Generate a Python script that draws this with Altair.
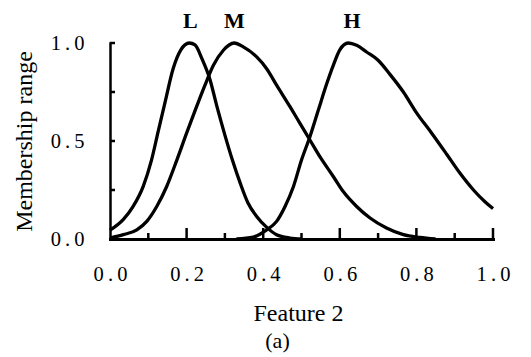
import altair as alt
import pandas as pd

# ---- data ----
L_x = [0.0, 0.035, 0.06, 0.087, 0.108, 0.126, 0.144, 0.165, 0.185, 0.207, 0.222, 0.24, 0.26, 0.28, 0.30, 0.32, 0.34, 0.36, 0.383, 0.41, 0.435, 0.47, 0.50]
L_y = [0.045, 0.10, 0.165, 0.27, 0.40, 0.55, 0.70, 0.87, 0.965, 1.0, 0.99, 0.92, 0.82, 0.67, 0.53, 0.40, 0.285, 0.185, 0.115, 0.058, 0.022, 0.005, 0.0]

M_x = [0.0, 0.035, 0.07, 0.096, 0.122, 0.148, 0.174, 0.20, 0.226, 0.248, 0.27, 0.296, 0.324, 0.348, 0.383, 0.409, 0.435, 0.47, 0.496, 0.522, 0.548, 0.583, 0.609, 0.644, 0.679, 0.722, 0.766, 0.809, 0.85]
M_y = [0.005, 0.022, 0.047, 0.09, 0.166, 0.268, 0.40, 0.54, 0.675, 0.785, 0.886, 0.963, 1.0, 0.98, 0.929, 0.869, 0.785, 0.675, 0.59, 0.505, 0.42, 0.319, 0.242, 0.166, 0.107, 0.056, 0.022, 0.008, 0.0]

H_x = [0.33, 0.374, 0.409, 0.435, 0.457, 0.479, 0.50, 0.522, 0.544, 0.566, 0.583, 0.60, 0.622, 0.644, 0.67, 0.70, 0.731, 0.766, 0.80, 0.84, 0.88, 0.914, 0.949, 0.979, 1.0]
H_y = [0.0, 0.01, 0.047, 0.09, 0.166, 0.268, 0.403, 0.522, 0.658, 0.793, 0.886, 0.965, 1.0, 0.988, 0.954, 0.912, 0.84, 0.75, 0.645, 0.54, 0.43, 0.335, 0.25, 0.19, 0.155]

set_names = ["L", "M", "H"]
set_label_x = [0.21, 0.325, 0.632]
set_label_y = [1.078, 1.078, 1.078]

x_label_values = [0.0, 0.2, 0.4, 0.6, 0.8, 1.0]
y_label_values = [0.0, 0.5, 1.0]
x_major_ticks = [0.2, 0.4, 0.6, 0.8, 1.0]
x_minor_ticks = [0.1, 0.3, 0.5, 0.7, 0.9]
y_ticks = [0.25, 0.5, 0.75, 1.0]

# ---- tables ----
curves = pd.concat([
    pd.DataFrame({"x": L_x, "y": L_y, "curve": "L"}),
    pd.DataFrame({"x": M_x, "y": M_y, "curve": "M"}),
    pd.DataFrame({"x": H_x, "y": H_y, "curve": "H"}),
], ignore_index=True)
labels = pd.DataFrame({"name": set_names, "x": set_label_x, "y": set_label_y})
xmaj = pd.DataFrame({"x": x_major_ticks})
xmin = pd.DataFrame({"x": x_minor_ticks})
yt = pd.DataFrame({"y": y_ticks})

FONT = "Liberation Serif"
TS = "\u2009"
label_expr = f"replace(datum.label, '.', '{TS}.{TS}')"

x_scale = alt.Scale(domain=[0, 1], nice=False, zero=False)
y_scale = alt.Scale(domain=[0, 1], nice=False, zero=False)

x_axis = alt.Axis(
    values=x_label_values, format=".1f", labelExpr=label_expr,
    labelFont=FONT, labelFontSize=20.5, labelColor="black", labelPadding=25,
    ticks=False, tickSize=0, grid=False,
    domainColor="black", domainWidth=3, domainCap="square",
    titleFont=FONT, titleFontSize=24, titleFontWeight="normal",
    titleColor="black", titleX=188, titleY=81, titleBaseline="alphabetic", titleAlign="center",
    labelFlush=False, labelOverlap=False,
)
y_axis = alt.Axis(
    values=y_label_values, format=".1f", labelExpr=label_expr,
    labelFont=FONT, labelFontSize=20.5, labelColor="black", labelPadding=26,
    ticks=False, tickSize=0, grid=False,
    domainColor="black", domainWidth=2.5, domainCap="square",
    titleFont=FONT, titleFontSize=24, titleFontWeight="normal",
    titleColor="black", titleAngle=270, titleX=-86, titleY=98,
    titleBaseline="middle", titleAlign="center",
    labelFlush=False, labelOverlap=False,
)

X = alt.X("x:Q", scale=x_scale, axis=x_axis, title="Feature 2")
Y = alt.Y("y:Q", scale=y_scale, axis=y_axis, title="Membership range")

lines = alt.Chart(curves).mark_line(
    color="black", strokeWidth=3.3, interpolate="monotone", clip=False
).encode(x=X, y=Y, detail="curve:N")

major = alt.Chart(xmaj).mark_rule(color="black", strokeWidth=2.5).encode(
    x=X, y=alt.value(196), y2=alt.value(185),
)
minor = alt.Chart(xmin).mark_rule(color="black", strokeWidth=2.5).encode(
    x=X, y=alt.value(196), y2=alt.value(190),
)
yticks = alt.Chart(yt).mark_rule(color="black", strokeWidth=2.5).encode(
    y=Y, x=alt.value(0), x2=alt.value(5),
)

text = alt.Chart(labels).mark_text(
    font=FONT, fontSize=22, fontWeight="bold", color="black",
    align="center", baseline="alphabetic", clip=False
).encode(x=X, y=Y, text="name:N")

chart = alt.layer(lines, major, minor, yticks, text).properties(
    width=383, height=196,
    padding={"left": 102, "top": 35, "right": 30, "bottom": 118},
    autosize=alt.AutoSizeParams(type="none"),
    title=alt.TitleParams(
        "(a)", orient="bottom", anchor="middle", dx=-24, offset=6,
        font=FONT, fontSize=22, fontWeight="normal", color="black",
    ),
).configure(background="white").configure_view(stroke=None)

chart.save("out.html", embed_options={"renderer": "svg", "actions": False})
